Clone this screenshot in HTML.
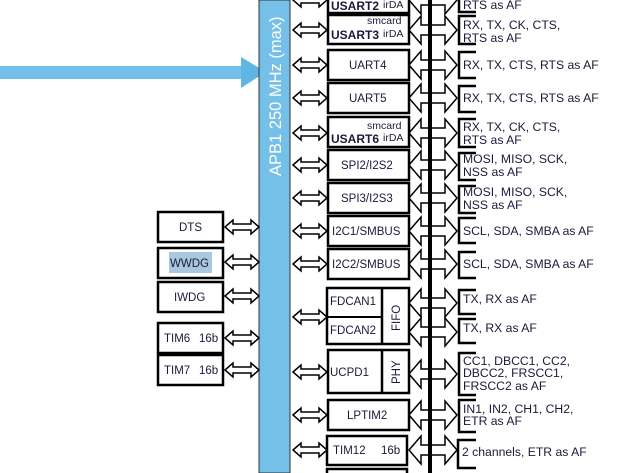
<!DOCTYPE html>
<html><head><meta charset="utf-8"><style>
html,body{margin:0;padding:0;background:#fff;}
svg{display:block;font-family:"Liberation Sans",Arial,sans-serif;}
.b{fill:#fff;stroke:#000;stroke-width:2.5;}
.a{fill:#fff;stroke:#000;stroke-width:1.5;}
.br{fill:none;stroke:#000;stroke-width:2.5;}
.t{font-size:11.5px;fill:#1a1a3a;}
.r{font-size:12.2px;fill:#1a1a3a;}
.s{font-size:10.5px;fill:#1a1a3a;}
</style></head><body>
<svg width="618" height="473" viewBox="0 0 618 473" xmlns="http://www.w3.org/2000/svg">
<rect x="0" y="66" width="245" height="13" fill="#74c0e8"/>
<polygon points="241,57 266,72 241,88" fill="#5eb6e4"/>
<rect x="259" y="0" width="31" height="473" fill="#74c0e8" stroke="#333" stroke-width="1"/>
<text transform="translate(281,176) rotate(-90)" font-size="16.5" fill="#fff">APB1 250 MHz (max)</text>

<g class="a">
<path d="M293 0 L301 -7 L301 -3 L319 -3 L319 -7 L327 0 L319 7 L319 3 L301 3 L301 7Z"/>
<path d="M293 30 L301 23 L301 27 L319 27 L319 23 L327 30 L319 37 L319 33 L301 33 L301 37Z"/>
<path d="M293 65 L301 58 L301 62 L319 62 L319 58 L327 65 L319 72 L319 68 L301 68 L301 72Z"/>
<path d="M293 98 L301 91 L301 95 L319 95 L319 91 L327 98 L319 105 L319 101 L301 101 L301 105Z"/>
<path d="M293 133 L301 126 L301 130 L319 130 L319 126 L327 133 L319 140 L319 136 L301 136 L301 140Z"/>
<path d="M293 165 L301 158 L301 162 L319 162 L319 158 L327 165 L319 172 L319 168 L301 168 L301 172Z"/>
<path d="M293 198 L301 191 L301 195 L319 195 L319 191 L327 198 L319 205 L319 201 L301 201 L301 205Z"/>
<path d="M293 231 L301 224 L301 228 L319 228 L319 224 L327 231 L319 238 L319 234 L301 234 L301 238Z"/>
<path d="M293 264 L301 257 L301 261 L319 261 L319 257 L327 264 L319 271 L319 267 L301 267 L301 271Z"/>
<path d="M293 317 L301 310 L301 314 L319 314 L319 310 L327 317 L319 324 L319 320 L301 320 L301 324Z"/>
<path d="M293 372 L301 365 L301 369 L319 369 L319 365 L327 372 L319 379 L319 375 L301 375 L301 379Z"/>
<path d="M293 415 L301 408 L301 412 L319 412 L319 408 L327 415 L319 422 L319 418 L301 418 L301 422Z"/>
<path d="M293 450 L301 443 L301 447 L319 447 L319 443 L327 450 L319 457 L319 453 L301 453 L301 457Z"/>
<path d="M225 227 L233 220 L233 224 L251 224 L251 220 L259 227 L251 234 L251 230 L233 230 L233 234Z"/>
<path d="M225 262 L233 255 L233 259 L251 259 L251 255 L259 262 L251 269 L251 265 L233 265 L233 269Z"/>
<path d="M225 296 L233 289 L233 293 L251 293 L251 289 L259 296 L251 303 L251 299 L233 299 L233 303Z"/>
<path d="M225 338 L233 331 L233 335 L251 335 L251 331 L259 338 L251 345 L251 341 L233 341 L233 345Z"/>
<path d="M225 370 L233 363 L233 367 L251 367 L251 363 L259 370 L251 377 L251 373 L233 373 L233 377Z"/>
</g>

<g class="a">
<path d="M409 0 L421 -14 L421 -5 L445 -5 L445 -14 L457 0 L445 14 L445 5 L421 5 L421 14Z"/>
<path d="M409 30 L421 16 L421 25 L445 25 L445 16 L457 30 L445 44 L445 35 L421 35 L421 44Z"/>
<path d="M409 65 L421 51 L421 60 L445 60 L445 51 L457 65 L445 79 L445 70 L421 70 L421 79Z"/>
<path d="M409 98 L421 84 L421 93 L445 93 L445 84 L457 98 L445 112 L445 103 L421 103 L421 112Z"/>
<path d="M409 133 L421 119 L421 128 L445 128 L445 119 L457 133 L445 147 L445 138 L421 138 L421 147Z"/>
<path d="M409 165 L421 151 L421 160 L445 160 L445 151 L457 165 L445 179 L445 170 L421 170 L421 179Z"/>
<path d="M409 198 L421 184 L421 193 L445 193 L445 184 L457 198 L445 212 L445 203 L421 203 L421 212Z"/>
<path d="M409 231 L421 217 L421 226 L445 226 L445 217 L457 231 L445 245 L445 236 L421 236 L421 245Z"/>
<path d="M409 264 L421 250 L421 259 L445 259 L445 250 L457 264 L445 278 L445 269 L421 269 L421 278Z"/>
<path d="M409 303 L421 289 L421 298 L445 298 L445 289 L457 303 L445 317 L445 308 L421 308 L421 317Z"/>
<path d="M409 332 L421 318 L421 327 L445 327 L445 318 L457 332 L445 346 L445 337 L421 337 L421 346Z"/>
<path d="M409 374 L421 360 L421 369 L445 369 L445 360 L457 374 L445 388 L445 379 L421 379 L421 388Z"/>
<path d="M409 415 L421 401 L421 410 L445 410 L445 401 L457 415 L445 429 L445 420 L421 420 L421 429Z"/>
<path d="M409 450 L421 436 L421 445 L445 445 L445 436 L457 450 L445 464 L445 455 L421 455 L421 464Z"/>
</g>
<rect x="428" y="0" width="4" height="473" fill="#000"/>

<rect class="b" x="328" y="-10" width="81" height="23"/>
<rect class="b" x="328" y="15" width="81" height="29"/>
<rect class="b" x="328" y="50" width="81" height="30"/>
<rect class="b" x="328" y="83" width="81" height="30"/>
<rect class="b" x="328" y="117" width="81" height="30"/>
<rect class="b" x="328" y="150" width="81" height="30"/>
<rect class="b" x="328" y="183" width="81" height="30"/>
<rect class="b" x="328" y="216" width="81" height="30"/>
<rect class="b" x="328" y="249" width="81" height="30"/>
<rect class="b" x="327" y="288" width="82" height="56"/>
<line x1="382" y1="288" x2="382" y2="344" stroke="#000" stroke-width="2.5"/>
<line x1="327" y1="317" x2="382" y2="317" stroke="#000" stroke-width="2"/>
<rect class="b" x="328" y="350" width="81" height="43"/>
<line x1="382" y1="350" x2="382" y2="393" stroke="#000" stroke-width="2.5"/>
<rect class="b" x="328" y="400" width="81" height="30"/>
<rect class="b" x="327" y="436" width="80" height="29"/>
<rect class="b" x="327" y="469" width="80" height="10"/>

<g class="t">
<text x="331" y="10" font-weight="bold" font-size="12">USART2</text><text x="383" y="8" class="s">irDA</text>
<text x="367" y="24" class="s">smcard</text>
<text x="331" y="39" font-weight="bold" font-size="12">USART3</text><text x="383" y="37" class="s">irDA</text>
<text x="349" y="69">UART4</text>
<text x="349" y="102">UART5</text>
<text x="367" y="129" class="s">smcard</text>
<text x="331" y="143" font-weight="bold" font-size="12">USART6</text><text x="383" y="141" class="s">irDA</text>
<text x="341" y="169">SPI2/I2S2</text>
<text x="341" y="202">SPI3/I2S3</text>
<text x="332" y="235">I2C1/SMBUS</text>
<text x="332" y="268">I2C2/SMBUS</text>
<text x="330" y="305">FDCAN1</text>
<text x="330" y="334">FDCAN2</text>
<text transform="translate(400,331) rotate(-90)">FIFO</text>
<text x="330" y="376">UCPD1</text>
<text transform="translate(400,384) rotate(-90)">PHY</text>
<text x="347" y="419">LPTIM2</text>
<text x="333" y="454">TIM12</text><text x="381" y="454">16b</text>
</g>

<rect class="b" x="158" y="212" width="65" height="30"/>
<rect class="b" x="158" y="248" width="65" height="30"/>
<rect class="b" x="158" y="282" width="65" height="30"/>
<rect class="b" x="158" y="323" width="65" height="30"/>
<rect class="b" x="158" y="355" width="65" height="30"/>
<rect x="169" y="252" width="43" height="21" fill="#a8c8e0"/>
<g class="t">
<text x="179" y="231">DTS</text>
<text x="170" y="267">WWDG</text>
<text x="174" y="301">IWDG</text>
<text x="164" y="342">TIM6</text><text x="199" y="342">16b</text>
<text x="164" y="374">TIM7</text><text x="199" y="374">16b</text>
</g>

<g class="br">
<path d="M476 -5 L459 -5 L459 12 L476 12"/>
<path d="M476 16 L459 16 L459 44 L476 44"/>
<path d="M476 52 L459 52 L459 78 L476 78"/>
<path d="M476 86 L459 86 L459 112 L476 112"/>
<path d="M476 119 L459 119 L459 147 L476 147"/>
<path d="M476 153 L459 153 L459 180 L476 180"/>
<path d="M476 186 L459 186 L459 213 L476 213"/>
<path d="M476 218 L459 218 L459 243 L476 243"/>
<path d="M476 252 L459 252 L459 278 L476 278"/>
<path d="M476 290 L459 290 L459 314 L476 314"/>
<path d="M476 319 L459 319 L459 343 L476 343"/>
<path d="M476 353 L459 353 L459 395 L476 395"/>
<path d="M476 400 L459 400 L459 432 L476 432"/>
<path d="M476 440 L458 440 L458 468 L476 468"/>
</g>
<g class="r">
<text x="463" y="9">RTS as AF</text>
<text x="463" y="29">RX, TX, CK, CTS,</text><text x="463" y="42">RTS as AF</text>
<text x="463" y="69">RX, TX, CTS, RTS as AF</text>
<text x="463" y="102">RX, TX, CTS, RTS as AF</text>
<text x="463" y="131">RX, TX, CK, CTS,</text><text x="463" y="144">RTS as AF</text>
<text x="463" y="163">MOSI, MISO, SCK,</text><text x="463" y="176">NSS as AF</text>
<text x="463" y="196">MOSI, MISO, SCK,</text><text x="463" y="209">NSS as AF</text>
<text x="463" y="235">SCL, SDA, SMBA as AF</text>
<text x="463" y="268">SCL, SDA, SMBA as AF</text>
<text x="463" y="303">TX, RX as AF</text>
<text x="463" y="332">TX, RX as AF</text>
<text x="463" y="365">CC1, DBCC1, CC2,</text><text x="463" y="377">DBCC2,  FRSCC1,</text><text x="463" y="390">FRSCC2 as AF</text>
<text x="463" y="413">IN1, IN2, CH1, CH2,</text><text x="463" y="425">ETR as AF</text>
<text x="462" y="456">2 channels, ETR as AF</text>
</g>
</svg>
</body></html>
